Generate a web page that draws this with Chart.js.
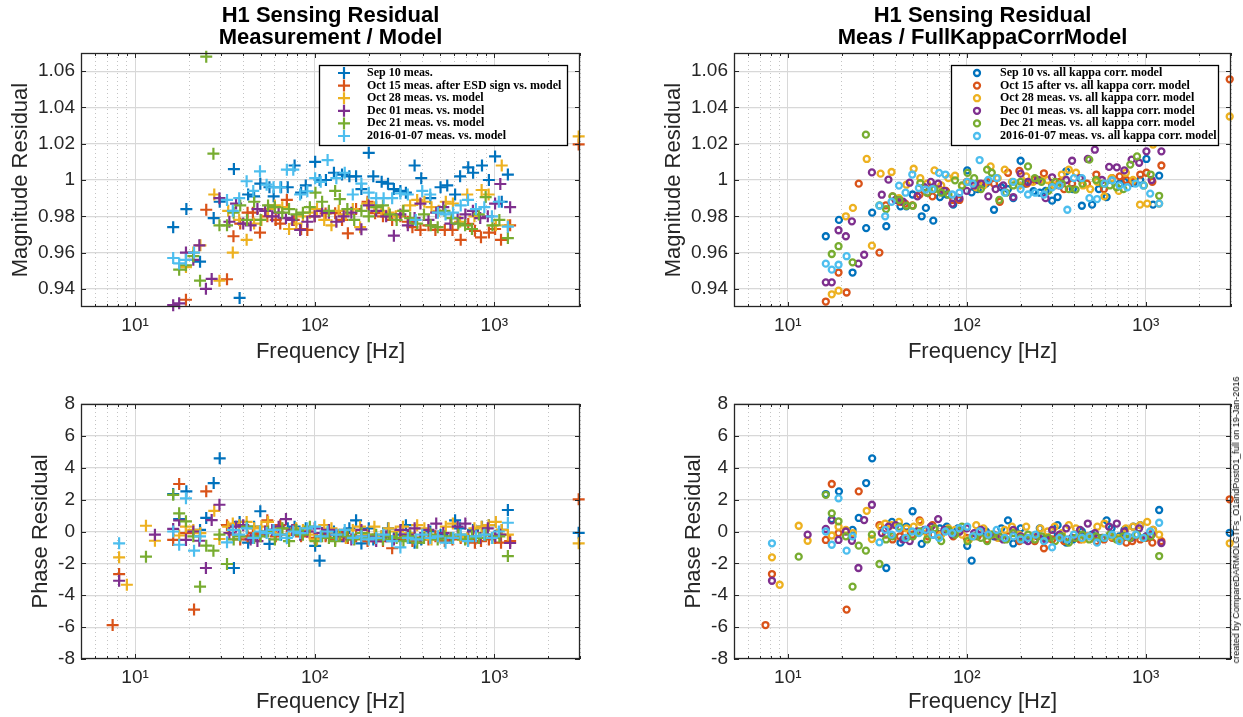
<!DOCTYPE html>
<html>
<head>
<meta charset="utf-8">
<script src="https://cdn.jsdelivr.net/npm/chart.js@4.4.0/dist/chart.umd.min.js"></script>
<style>
  body { margin: 0; background: #fff; width: 1243px; height: 717px; position: relative; overflow: hidden; }
  canvas { position: absolute; }
  #stamp { position: absolute; left: 1236px; top: 520px; white-space: nowrap; font: 9px "Liberation Sans", Arial, sans-serif; color: #000;
           transform: translate(-50%, -50%) rotate(-90deg); }
</style>
</head>
<body>
<canvas id="magModel" width="621" height="370" style="left:0;top:0"></canvas>
<canvas id="magKappa" width="622" height="370" style="left:621px;top:0"></canvas>
<canvas id="phaseModel" width="621" height="347" style="left:0;top:370px"></canvas>
<canvas id="phaseKappa" width="622" height="347" style="left:621px;top:370px"></canvas>
<div id="stamp">created by CompareDARMOLGTFs_O1andPostO1_full on 19-Jan-2016</div>
<script>
// axis ticks
const freqDecades = [10, 100, 1000];
const freqTickLabels = ['10¹', '10²', '10³'];
const freqMinorTicks = [5, 6, 7, 8, 9, 20, 30, 40, 50, 60, 70, 80, 90, 200, 300, 400, 500, 600, 700, 800, 900, 2000, 3000];
const magTicks = [0.94, 0.96, 0.98, 1, 1.02, 1.04, 1.06];
const magTickLabels = ['0.94', '0.96', '0.98', '1', '1.02', '1.04', '1.06'];
const phaseTicks = [-8, -6, -4, -2, 0, 2, 4, 6, 8];
const phaseTickLabels = ['-8', '-6', '-4', '-2', '0', '2', '4', '6', '8'];

// legend texts
const labelsModel = ['Sep 10 meas.', 'Oct 15 meas. after ESD sign vs. model', 'Oct 28 meas. vs. model',
  'Dec 01 meas. vs. model', 'Dec 21 meas. vs. model', '2016-01-07 meas. vs. model'];
const labelsKappa = ['Sep 10 vs. all kappa corr. model', 'Oct 15 after vs. all kappa corr. model',
  'Oct 28 meas. vs. all kappa corr. model', 'Dec 01 meas. vs. all kappa corr. model',
  'Dec 21 meas. vs. all kappa corr. model', '2016-01-07 meas. vs. all kappa corr. model'];

// Sep 10
const sep10Freq = [16.3, 17.6, 19.3, 23.0, 24.9, 27.4, 29.6, 35.5, 38.2, 42.6, 46, 49.8, 56, 59.1, 65, 70.8, 77.3, 84, 89.2, 100.6, 106.5, 115.5, 128, 142, 156, 170, 182, 200, 212, 236, 256, 276, 300, 322, 360, 392, 440, 502, 547, 605, 645, 716, 762, 854, 933, 1010, 1100, 1190, 2950];
const sep10MagModel = [0.974, null, 0.984, 0.955, null, 0.979, 0.988, 1.006, 0.935, 0.992, 0.991, 0.998, 0.996, 0.991, 0.996, 0.996, 1.008, 0.993, 0.997, 1.010, 1.000, 1.000, 1.004, 1.003, 1.002, 1.002, 0.995, 1.015, 1.002, 0.999, 0.998, 0.995, 0.994, 0.993, 1.008, 1.001, 0.990, 0.996, 0.997, 0.992, 1.002, 1.007, 1.004, 1.008, 1.000, 1.013, 0.988, 1.003, null];
const sep10MagKappa = [0.969, null, 0.978, 0.949, null, 0.9735, 0.982, 0.9745, null, 0.9855, 0.9855, 0.992, 0.980, 0.9846, 0.9776, 0.9906, 0.992, 0.9864, 0.990, 1.0053, 0.9932, 0.995, 0.998, 0.9836, 0.996, 0.995, 0.990, 1.0106, 0.998, 0.9938, 0.993, 0.994, 0.9886, 0.9906, 1.0048, 0.995, 0.9858, 0.9864, 0.995, 0.9906, 1.000, 0.998, 0.999, 0.9983, 1.000, 1.0116, 0.9864, 1.0024, null];
const sep10Phase = [2.35, 0.78, 2.52, 0.1, 0.85, 3.04, 4.59, -2.29, 0.6, -0.7, 0.3, 1.27, -0.78, 0.1, -0.2, 0.2, 0.3, -0.1, 0.2, -0.9, -1.83, -0.2, 0.0, -0.3, 0.2, 0.7, -0.75, 0.2, -0.5, -0.3, 0.2, -0.4, -0.2, 0.4, -0.7, -0.5, 0.0, -0.2, -0.4, 0.7, 0.2, -0.3, 0.1, 0.3, 0.4, -0.3, 0.1, 1.35, -0.08];

// Oct 15
const oct15Freq = [7.5, 8.15, 16.3, 17.6, 19.2, 21.3, 24.9, 32.5, 35.3, 38.5, 42.3, 45.3, 49.6, 54.5, 60.7, 64.3, 70, 76.5, 84, 91, 100, 115, 130, 142, 153, 170, 197, 217, 240, 270, 300, 330, 350, 388, 430, 470, 530, 585, 650, 716, 780, 843, 933, 1010, 1090, 1225, 2950];
const oct15MagModel = [null, null, null, null, 0.934, null, 0.9836, 0.9453, 0.969, 0.976, 0.982, 0.982, 0.971, 0.980, 0.978, 0.976, 0.989, 0.978, 0.973, 0.9725, 0.980, 0.9816, 0.9817, 0.978, 0.9706, 0.984, 0.988, 0.9817, 0.980, 0.978, 0.980, 0.977, 0.974, 0.9725, 0.975, 0.9725, 0.9725, 0.9725, 0.967, 0.9758, 0.972, 0.9684, 0.971, 0.973, 0.967, 0.975, 1.0196];
const oct15MagKappa = [null, null, 0.933, null, 0.949, 0.938, 0.998, 0.960, 0.986, 0.991, 0.988, 0.987, 0.986, 0.992, 0.993, 0.991, 0.995, 0.994, 0.989, 0.989, 0.999, 0.998, 0.999, 0.998, 0.988, 1.004, 1.005, 0.998, 1.000, 1.0037, 0.997, 0.999, 0.995, 0.998, 1.001, 0.998, 1.003, 0.995, 1.001, 1.002, 1.000, 0.999, 1.003, 1.004, 0.999, 1.008, 1.0555];
const oct15Phase = [-5.87, -2.67, -0.53, 2.98, -0.1, -4.9, 2.52, 0.4, -0.2, -0.5, -0.3, -0.1, -0.2, 0.7, -0.3, 0.4, -0.2, 0.1, -0.3, 0.0, -0.4, -0.3, -0.5, -0.2, -0.4, -0.3, -0.6, -0.4, -0.6, -1.05, -0.5, -0.3, -0.6, -0.4, -0.5, -0.3, -0.6, -0.5, -0.4, -0.5, -0.7, -0.6, -0.5, -0.4, -0.7, -0.6, 2.02];

// Oct 28
const oct28Freq = [8.15, 9.0, 11.5, 12.9, 17.6, 19.2, 21.1, 23.1, 27.6, 29.5, 33, 35, 38, 41.8, 46, 50.5, 55, 60, 66, 72, 79, 86, 94, 103, 113, 124, 136, 149, 163, 179, 196, 215, 235, 258, 283, 310, 340, 372, 408, 447, 490, 537, 588, 645, 707, 775, 850, 930, 1020, 1100, 1190, 2950];
const oct28MagModel = [null, null, null, null, null, 0.952, 0.960, 0.964, 0.992, 0.9445, 0.983, 0.960, 0.978, 0.967, 0.976, 0.978, 0.984, 0.986, 0.985, 0.973, 0.976, 0.980, 0.982, 0.984, 0.978, 0.975, 0.983, 0.981, 0.984, 0.974, 0.987, 0.985, 0.983, 0.982, 0.980, 0.983, 0.986, 0.989, 0.988, 0.985, 0.983, 0.988, 0.987, 0.977, 0.992, 0.980, 0.9945, 0.992, 0.975, 1.008, 0.975, 1.024];
const oct28MagKappa = [null, null, null, null, 0.937, 0.939, 0.980, 0.9846, 1.0116, 0.9638, 1.0035, null, 1.0044, 0.990, 0.9974, 1.0062, 1.001, 0.998, 1.0053, 0.997, 1.001, 1.0024, 0.9965, 0.999, 0.996, 0.997, 1.0075, 1.001, 1.0057, 0.999, 0.997, 1.002, 0.999, 1.000, 1.000, 0.997, 1.003, 1.0057, 1.004, 0.997, 0.995, 0.999, 0.991, 1.001, 0.994, 1.004, 1.000, 0.9864, 0.987, 1.0195, 0.987, 1.035];
const oct28Phase = [-1.62, -3.34, 0.36, -0.58, -0.25, 0.3, 0.1, -0.1, 1.3, -0.47, 0.3, 0.5, 0.4, 0.6, 0.2, 0.3, 0.6, -0.1, 0.2, -0.2, 0.2, 0.1, -0.2, -0.5, 0.4, 0.2, -0.2, -0.4, 0.1, 0.3, -0.2, 0.3, -0.3, 0.2, 0.0, 0.3, -0.1, 0.4, 0.2, -0.5, -0.3, 0.3, 0.5, -0.3, -0.4, 0.2, 0.3, 0.4, 0.6, 0.1, -0.2, -0.74];

// Dec 01
const dec01Freq = [8.15, 12.9, 16.3, 17.6, 19.2, 21.1, 22.8, 24.8, 26.7, 29.5, 33.5, 36.5, 40, 44, 48, 53, 58, 63, 69.2, 75, 83, 91, 100, 110, 120, 132, 145, 160, 182, 200, 220, 250, 276, 300, 330, 360, 388, 430, 475, 520, 570, 625, 690, 760, 835, 920, 1010, 1080, 1225];
const dec01MagModel = [null, null, 0.931, 0.932, 0.960, 0.956, 0.964, 0.940, 0.9455, 0.990, 0.977, 0.987, 0.976, 0.975, 0.984, 0.983, 0.980, 0.982, 0.979, 0.978, 0.9725, 0.977, 0.980, 0.983, 0.982, 0.977, 0.980, 0.982, 0.9728, 0.986, 0.983, 0.980, 0.9693, 0.981, 0.975, 0.979, 0.987, 0.978, 0.982, 0.985, 0.976, 0.979, 0.981, 0.983, 0.979, 0.980, 0.987, 0.9978, 0.985];
const dec01MagKappa = [null, null, 0.9436, 0.9436, 0.9723, 0.969, 0.9772, 0.9539, 0.9588, 1.0042, 0.9919, 1.0002, 0.989, 0.988, 0.9985, 0.991, 0.996, 0.999, 0.998, 0.994, 0.987, 0.990, 0.994, 0.997, 0.998, 0.991, 0.995, 0.997, 0.9906, 1.0035, 0.999, 1.000, 0.990, 1.0015, 0.997, 1.000, 1.0106, 1.001, 1.0116, 1.0167, 1.000, 1.0072, 1.007, 1.0053, 1.0112, 1.0095, 1.0158, 1.000, 1.0158];
const dec01Phase = [-3.09, -0.2, 0.16, 0.7, -0.53, 0.0, -0.58, -2.29, 0.72, 1.68, -0.1, 0.3, 0.4, -0.5, -0.6, 0.0, 0.1, 0.3, 0.78, 0.1, -0.2, 0.0, 0.2, -0.1, 0.1, -0.2, -0.3, -0.5, 0.1, -0.3, -0.6, -0.3, -0.5, 0.1, -0.2, 0.2, -0.4, 0.1, 0.5, -0.1, -0.4, 0.3, 0.5, 0.0, -0.4, 0.2, -0.3, -0.2, -0.72];

// Dec 21
const dec21Freq = [11.5, 16.3, 17.6, 19.2, 21.1, 23, 24.9, 27.3, 29.5, 32.5, 35.4, 38.5, 42, 46, 50, 55, 60, 66, 72, 79, 86, 94, 101, 110, 120, 130, 138, 152, 166, 182, 200, 220, 240, 262, 286, 312, 340, 372, 406, 443, 484, 528, 577, 630, 688, 751, 820, 895, 977, 1067, 1190];
const dec21MagModel = [null, null, 0.9506, 0.953, 0.958, 0.9445, 1.068, 1.0145, 0.975, 0.975, 0.982, 0.986, 0.978, 0.988, 0.978, 0.986, 0.985, 0.982, 0.984, 0.981, 0.982, 0.985, 0.993, 0.988, 0.983, 0.994, 0.9895, 0.984, 0.978, 0.983, 0.980, 0.985, 0.986, 0.981, 0.978, 0.983, 0.979, 0.976, 0.981, 0.975, 0.974, 0.983, 0.979, 0.976, 0.975, 0.973, 0.981, 0.9906, 0.975, 0.978, 0.968];
const dec21MagKappa = [null, null, 0.9592, 0.9635, null, 0.9546, null, 1.025, null, 0.986, 0.984, 0.991, 0.989, 0.9858, 0.9858, 0.9983, 0.993, 0.995, 0.993, 0.992, 0.9998, 0.997, 1.0039, 1.001, 0.995, 1.0057, 1.004, 0.989, 0.993, 0.997, 0.999, 1.0075, 1.001, 0.999, 0.994, 0.999, 0.998, 0.995, 0.9947, 0.998, 1.0112, 1.000, 0.998, 0.997, 0.996, 0.995, 1.0085, 1.013, 0.997, 1.003, 0.9913];
const dec21Phase = [-1.58, 2.3, 1.14, 0.64, -0.3, -3.46, -0.89, -1.2, -0.2, -2.04, -0.5, -0.3, 0.3, -0.4, -0.3, 0.0, -0.5, 0.2, -0.6, 0.1, -0.2, 0.3, -0.6, -0.3, -0.4, -0.6, -0.2, -0.3, -0.5, -0.1, -0.4, -0.2, -0.5, -0.3, -0.4, -0.6, -0.3, -0.7, -0.4, -0.2, -0.5, -0.3, -0.4, -0.2, -0.5, -0.3, -0.4, -0.2, -0.4, -0.3, -1.54];

// 2016-01-07
const jan07Freq = [8.15, 16.3, 17.6, 19.2, 21.3, 23, 32.5, 35, 38, 41.8, 45.5, 49.6, 54, 59, 64.3, 70, 76, 83, 91, 100.6, 108, 118, 132, 147, 163, 182, 200, 220, 242, 270, 300, 330, 365, 397, 440, 485, 535, 590, 650, 714, 790, 880, 970, 1060, 1190];
const jan07MagModel = [null, 0.957, 0.954, 0.956, 0.960, null, 0.989, 0.983, 0.990, 0.9993, 0.994, 1.0048, 0.9974, 0.996, 0.996, 1.0057, 1.0057, 0.992, 0.9938, 1.001, 0.999, 1.011, 1.001, 1.004, 0.992, 0.998, 0.993, 0.990, 0.990, 0.990, 0.9926, 0.992, 0.978, 0.994, 0.992, 0.982, 0.981, 0.982, 0.986, 0.989, 0.984, 0.985, 0.980, 0.988, 0.9743];
const jan07MagKappa = [null, 0.9539, 0.9506, 0.9533, 0.958, null, 0.9858, 0.980, 0.988, 0.9969, 0.993, 1.003, 0.9956, 0.9947, 0.995, 1.0039, 1.003, 0.992, 0.993, 0.999, 0.998, 1.011, 1.000, 1.001, 0.993, 0.999, 0.995, 0.992, 0.993, 0.992, 0.996, 0.997, 0.9836, 1.001, 1.001, 0.990, 0.9895, 0.998, 0.9998, 0.997, 0.996, 0.998, 0.997, 0.9925, 0.987];
const jan07Phase = [-0.74, 0.0, -0.83, 2.08, -1.2, -0.3, -0.68, 0.1, -0.2, 0.2, -0.4, 0.0, -0.1, 0.1, -0.2, -0.4, 0.0, -0.1, 0.2, 0.3, -0.3, 0.0, -0.2, 0.1, -0.4, -0.3, -0.5, -0.4, -0.2, -0.6, -1.0, -0.4, -0.5, -0.2, -0.4, -0.3, -0.7, -0.4, -0.2, -0.6, -0.3, -0.2, -0.4, 0.0, 0.55];

const seriesColors = ['#0072BD', '#D95319', '#EDB120', '#7E2F8E', '#77AC30', '#4DBEEE'];
const seriesList = [
  { freq: sep10Freq, magModel: sep10MagModel, magKappa: sep10MagKappa, phase: sep10Phase },
  { freq: oct15Freq, magModel: oct15MagModel, magKappa: oct15MagKappa, phase: oct15Phase },
  { freq: oct28Freq, magModel: oct28MagModel, magKappa: oct28MagKappa, phase: oct28Phase },
  { freq: dec01Freq, magModel: dec01MagModel, magKappa: dec01MagKappa, phase: dec01Phase },
  { freq: dec21Freq, magModel: dec21MagModel, magKappa: dec21MagKappa, phase: dec21Phase },
  { freq: jan07Freq, magModel: jan07MagModel, magKappa: jan07MagKappa, phase: jan07Phase }
];

const FONT = '"Liberation Sans", Arial, Helvetica, sans-serif';
const AXIS = '#262626';

function drawMarker(ctx, style, color, x, y, r, w) {
  ctx.save();
  ctx.strokeStyle = color;
  ctx.lineWidth = w;
  ctx.beginPath();
  if (style === 'cross') {
    ctx.moveTo(x - r, y); ctx.lineTo(x + r, y);
    ctx.moveTo(x, y - r); ctx.lineTo(x, y + r);
  } else {
    ctx.arc(x, y, r, 0, Math.PI * 2);
  }
  ctx.stroke();
  ctx.restore();
}

// matlab style box, inner ticks, title and boxed legend
const frame = {
  id: 'frame',
  afterDraw(chart, args, o) {
    const { ctx, chartArea: a } = chart;
    const x = chart.scales.x, y = chart.scales.y;
    ctx.save();
    ctx.strokeStyle = AXIS;
    ctx.lineWidth = 1;
    ctx.beginPath();
    y.ticks.forEach(t => {
      const p = Math.round(y.getPixelForValue(t.value)) + 0.5;
      ctx.moveTo(a.left, p); ctx.lineTo(a.left + 5, p);
      ctx.moveTo(a.right, p); ctx.lineTo(a.right - 5, p);
    });
    x.ticks.forEach(t => {
      const p = Math.round(x.getPixelForValue(t.value)) + 0.5;
      const len = t.major ? 5 : 3;
      ctx.moveTo(p, a.bottom); ctx.lineTo(p, a.bottom - len);
      ctx.moveTo(p, a.top); ctx.lineTo(p, a.top + len);
    });
    ctx.stroke();
    ctx.lineWidth = 1.3;
    ctx.strokeRect(Math.round(a.left) + 0.5, Math.round(a.top) + 0.5, Math.round(a.width) - 1, Math.round(a.height) - 1);

    if (o.title) {
      ctx.fillStyle = '#000';
      ctx.font = 'bold 22px ' + FONT;
      ctx.textAlign = 'center';
      ctx.textBaseline = 'middle';
      o.title.forEach((line, i) => ctx.fillText(line, (a.left + a.right) / 2, 16 + i * 22));
    }

    if (o.legend) {
      const L = o.legend;
      ctx.fillStyle = '#fff';
      ctx.fillRect(L.x, L.y, L.w, L.h);
      ctx.strokeStyle = '#000';
      ctx.lineWidth = 1.3;
      ctx.strokeRect(L.x + 0.5, L.y + 0.5, L.w, L.h);
      ctx.font = 'bold 12px "Liberation Serif", "Times New Roman", serif';
      ctx.textAlign = 'left';
      ctx.textBaseline = 'middle';
      chart.data.datasets.forEach((ds, i) => {
        const cy = L.y + L.first + i * L.step;
        drawMarker(ctx, ds.pointStyle, ds.borderColor, L.markerX, cy, ds.pointRadius, ds.pointBorderWidth);
        ctx.fillStyle = '#000';
        ctx.fillText(ds.label, L.textX, cy);
      });
    }
    ctx.restore();
  }
};

function buildChart(id, cfg) {
  const cross = cfg.marker === 'cross';
  return new Chart(document.getElementById(id), {
    type: 'scatter',
    data: {
      datasets: seriesList.map((s, i) => ({
        label: cfg.labels[i],
        data: s.freq.map((f, k) => ({ x: f, y: s[cfg.key][k] })).filter(p => p.y !== null),
        borderColor: seriesColors[i],
        backgroundColor: 'rgba(0,0,0,0)',
        pointStyle: cfg.marker,
        pointRadius: cross ? 6 : 3,
        pointHoverRadius: cross ? 6 : 3,
        pointBorderWidth: cross ? 2.2 : 2.3,
        showLine: false,
        clip: false,
        order: seriesList.length - i
      }))
    },
    options: {
      responsive: false,
      animation: false,
      events: [],
      layout: { padding: { left: 0, right: cfg.padRight, top: cfg.padTop, bottom: 0 } },
      plugins: {
        legend: { display: false },
        tooltip: { enabled: false },
        frame: { title: cfg.title, legend: cfg.legend }
      },
      scales: {
        x: {
          type: 'logarithmic',
          min: 5,
          max: 3000,
          afterBuildTicks: s => {
            s.ticks = freqMinorTicks.concat(freqDecades).sort((p, q) => p - q)
              .map(v => ({ value: v, major: freqDecades.includes(v) }));
          },
          afterFit: s => { s.height = cfg.xHeight; },
          ticks: {
            autoSkip: false, maxRotation: 0, minRotation: 0, padding: 7, color: AXIS,
            font: { family: FONT, size: 19 },
            callback: v => {
              const k = freqDecades.indexOf(v);
              return k >= 0 ? freqTickLabels[k] : '';
            }
          },
          grid: {
            drawTicks: false,
            lineWidth: 1,
            color: c => (c.tick && c.tick.major) ? '#d8d8d8' : '#c4c4c4'
          },
          border: { display: false, dash: c => (c.tick && c.tick.major) ? [] : [1, 3] },
          title: {
            display: true, text: 'Frequency [Hz]', color: AXIS,
            font: { family: FONT, size: 22 },
            padding: { top: 0, bottom: cfg.xTitlePad }
          }
        },
        y: {
          type: 'linear',
          min: cfg.yMin,
          max: cfg.yMax,
          afterBuildTicks: s => { s.ticks = cfg.yTicks.map(v => ({ value: v })); },
          afterFit: s => { s.width = cfg.yWidth; },
          ticks: {
            padding: 6, color: AXIS,
            font: { family: FONT, size: 19 },
            callback: (v, i) => cfg.yTickLabels[i]
          },
          grid: { drawTicks: false, color: '#d8d8d8', lineWidth: 1.2 },
          border: { display: false },
          title: {
            display: true, text: cfg.yTitle, color: AXIS,
            font: { family: FONT, size: 22 },
            padding: { top: cfg.yTitlePad, bottom: 0 }
          }
        }
      }
    },
    plugins: [frame]
  });
}

buildChart('magModel', {
  key: 'magModel', marker: 'cross', labels: labelsModel,
  padRight: 41, padTop: 53, yWidth: 81, xHeight: 63, yTitlePad: 8, xTitlePad: 5,
  yMin: 0.93, yMax: 1.07, yTicks: magTicks, yTickLabels: magTickLabels, yTitle: 'Magnitude Residual',
  title: ['H1 Sensing Residual', 'Measurement / Model'],
  legend: { x: 319, y: 65, w: 248, h: 80, first: 8, step: 12.6, markerX: 344, textX: 367 }
});

buildChart('magKappa', {
  key: 'magKappa', marker: 'circle', labels: labelsKappa,
  padRight: 12, padTop: 53, yWidth: 113, xHeight: 63, yTitlePad: 40, xTitlePad: 5,
  yMin: 0.93, yMax: 1.07, yTicks: magTicks, yTickLabels: magTickLabels, yTitle: 'Magnitude Residual',
  title: ['H1 Sensing Residual', 'Meas / FullKappaCorrModel'],
  legend: { x: 330, y: 65, w: 267, h: 80, first: 8, step: 12.6, markerX: 356, textX: 379 }
});

buildChart('phaseModel', {
  key: 'phase', marker: 'cross', labels: labelsModel,
  padRight: 41, padTop: 34, yWidth: 81, xHeight: 58, yTitlePad: 28, xTitlePad: 2,
  yMin: -8, yMax: 8, yTicks: phaseTicks, yTickLabels: phaseTickLabels, yTitle: 'Phase Residual',
  title: null, legend: null
});

buildChart('phaseKappa', {
  key: 'phase', marker: 'circle', labels: labelsKappa,
  padRight: 12, padTop: 34, yWidth: 113, xHeight: 58, yTitlePad: 60, xTitlePad: 2,
  yMin: -8, yMax: 8, yTicks: phaseTicks, yTickLabels: phaseTickLabels, yTitle: 'Phase Residual',
  title: null, legend: null
});
</script>
</body>
</html>
